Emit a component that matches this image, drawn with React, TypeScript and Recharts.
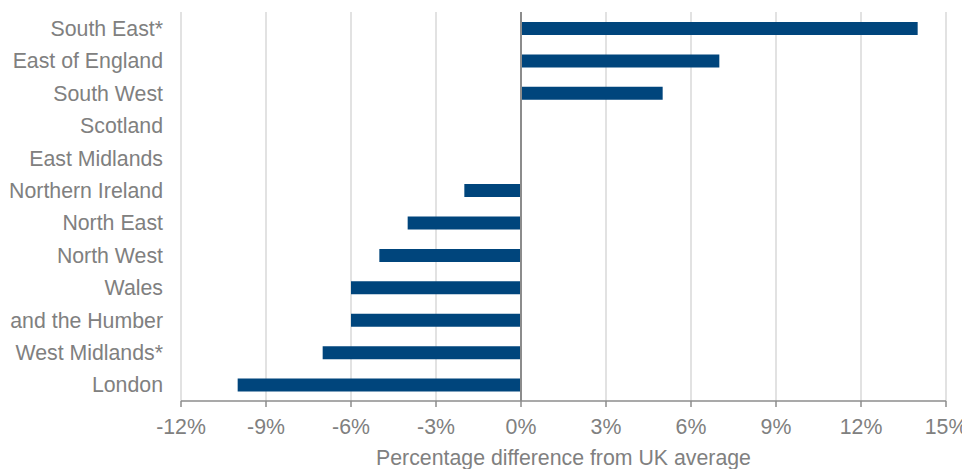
import {
  Bar,
  BarChart,
  CartesianGrid,
  Label,
  ReferenceLine,
  XAxis,
  YAxis,
} from "recharts";

const regions = [
  "South East*",
  "East of England",
  "South West",
  "Scotland",
  "East Midlands",
  "Northern Ireland",
  "North East",
  "North West",
  "Wales",
  "Yorkshire and the Humber",
  "West Midlands*",
  "London",
];

const diffFromUk = [14, 7, 5, 0, 0, -2, -4, -5, -6, -6, -7, -10];

const xTicks = [-12, -9, -6, -3, 0, 3, 6, 9, 12, 15];

const data = regions.map((region, i) => ({ region, diff: diffFromUk[i] }));

const textStyle = {
  fontFamily: "'Liberation Sans', Arial, sans-serif",
  fontSize: 21.3,
  fill: "#808080",
};

// single-line region label, right aligned against the plot
function RegionTick(props: any) {
  const { x, y, payload } = props;
  return (
    <text x={x} y={y} dy="0.36em" textAnchor="end" style={textStyle}>
      {payload.value}
    </text>
  );
}

function RegionalDifference() {
  return (
    <div style={{ margin: "-8px 0 0 -8px" }}>
      <BarChart
        width={970}
        height={469}
        data={data}
        layout="vertical"
        margin={{ top: 12, right: 24, bottom: 0, left: 0 }}
      >
        <CartesianGrid
          horizontal={false}
          stroke="#e2e2e2"
          strokeWidth={2}
        />
        <XAxis
          type="number"
          dataKey="diff"
          domain={[-12, 15]}
          ticks={xTicks}
          tickFormatter={(v) => `${v}%`}
          height={68}
          stroke="#8c8c8c"
          strokeWidth={1.5}
          tickSize={6}
          tickMargin={12}
          tick={{ ...textStyle }}
        >
          <Label
            value="Percentage difference from UK average"
            position="insideBottom"
            offset={4}
            style={{ ...textStyle }}
          />
        </XAxis>
        <YAxis
          type="category"
          dataKey="region"
          width={181}
          axisLine={false}
          tickLine={false}
          tickSize={0}
          tickMargin={18}
          interval={0}
          tick={<RegionTick />}
        />
        <Bar
          dataKey="diff"
          fill="#00457c"
          barSize={13}
          isAnimationActive={false}
        />
        <ReferenceLine x={0} stroke="#8c8c8c" strokeWidth={2} />
      </BarChart>
    </div>
  );
}

export default function App() {
  return <RegionalDifference />;
}
